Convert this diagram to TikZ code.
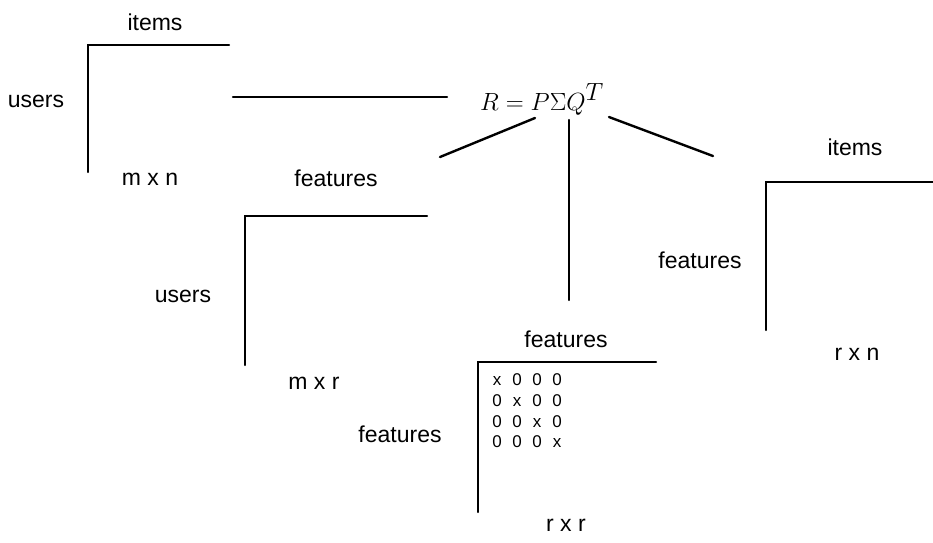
\documentclass[tikz,border=0pt]{standalone}
\usepackage{amsmath}
\usepackage{fontspec}
\setmainfont{Liberation Sans}
\usepackage{tikz}
\usetikzlibrary{arrows}

\tikzset{
    lbl/.style={anchor=base, inner sep=0pt, font=\fontsize{23}{27}\selectfont},
    entry/.style={anchor=base, inner sep=0pt, font=\fontsize{17}{20}\selectfont},
    edge/.style={line width=2.4pt, line cap=round}
}

\begin{document}
\begin{tikzpicture}[x=1pt, y=-1pt]
        \useasboundingbox (0, 0) rectangle (933, 542);

        % the product
        \node[anchor=base, inner sep=2pt, font=\fontsize{34}{40}\selectfont] (eq) at (542, 110) {$R = P\Sigma Q^T$};

        % R : users x items
        \draw[edge] (229, 45) -- (88, 45) -- (88, 172);
        \node[lbl] (itemsR) at (155, 30) {items};
        \node[lbl] (usersR) at (36, 107) {users};
        \node[lbl] (sizeR) at (150, 185) {m x n};
        \coordinate (R) at (233, 97);

        % P : users x features
        \draw[edge] (427, 216) -- (245, 216) -- (245, 365);
        \node[lbl] (featP) at (336, 186) {features};
        \node[lbl] (usersP) at (183, 302) {users};
        \node[lbl] (sizeP) at (314, 389) {m x r};
        \coordinate (P) at (440, 157);

        % Sigma : features x features, diagonal
        \draw[edge] (656, 362) -- (478, 362) -- (478, 512);
        \node[lbl] (featS) at (566, 347) {features};
        \node[lbl] (featSl) at (400, 442) {features};
        \node[lbl] (sizeS) at (566, 531) {r x r};
        \foreach \r in {1, ..., 4}
        {
            \foreach \c in {1, ..., 4}
            {
                \node[entry] (s\r\c) at (477 + \c * 20, 365 + \r * 20.7) {\ifnum\r=\c x\else 0\fi};
            }
        }
        \coordinate (S) at (569, 300);

        % Q^T : features x items
        \draw[edge] (933, 182) -- (766, 182) -- (766, 330);
        \node[lbl] (itemsQ) at (855, 155) {items};
        \node[lbl] (featQ) at (700, 268) {features};
        \node[lbl] (sizeQ) at (857, 360) {r x n};
        \coordinate (Q) at (713, 156);

        % links to the product
        \draw[edge] (R) -- (447, 97);
        \draw[edge] (535, 118) -- (P);
        \draw[edge] (569, 120) -- (S);
        \draw[edge] (609, 117) -- (Q);
    \end{tikzpicture}
\end{document}
